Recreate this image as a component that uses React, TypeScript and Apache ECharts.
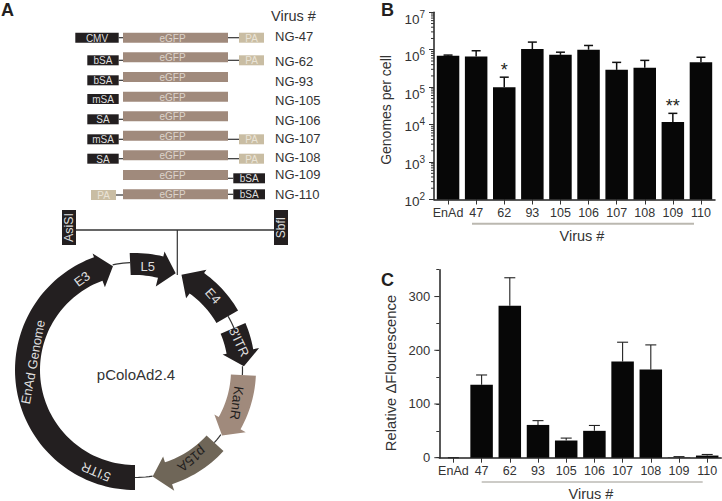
import React, { useEffect, useRef } from "react";
import * as echarts from "echarts";

// ---------- data ----------
const genomeCategories = ["EnAd", "47", "62", "93", "105", "106", "107", "108", "109", "110"];
const genomeValues = [690000, 660000, 100000, 1040000, 730000, 1000000, 290000, 330000, 11700, 460000];
const genomeUpper = [720000, 940000, 185000, 1600000, 860000, 1300000, 460000, 520000, 20000, 630000];
const genomeSignificance = ["", "", "*", "", "", "", "", "", "**", ""];
const genomeMinorMultipliers = [2, 3, 4, 5, 6, 7, 8, 9];
const genomeDecades = [100, 1000, 10000, 100000, 1000000];

const fluorCategories = ["EnAd", "47", "62", "93", "105", "106", "107", "108", "109", "110"];
const fluorValues = [0, 136, 283, 61, 32, 50, 179, 164, 0.5, 4];
const fluorUpper = [0, 154, 335, 69, 36.5, 60, 215, 210, 2, 6];
const fluorMajorTicks = [0, 100, 200, 300];

const constructNames = ["NG-47", "NG-62", "NG-93", "NG-105", "NG-106", "NG-107", "NG-108", "NG-109", "NG-110"];
const constructLeft = ["CMV", "bSA", "bSA", "mSA", "SA", "mSA", "SA", "", "PA"];
const constructRight = ["PA", "PA", "", "", "", "PA", "PA", "bSA", "bSA"];

// ---------- layout of the schematic ----------
const rowEgfpTop = [32.7, 52.3, 72, 91.7, 111.3, 130.7, 150.3, 170, 189.3];
const rowLeftTop = [32.7, 55.3, 75.3, 94, 114.3, 134.3, 153.7, 0, 190];
const rowRightTop = [32.7, 55.3, 0, 0, 0, 134.3, 153.7, 173.3, 189.3];
const rowNameY = [36.7, 61.3, 81, 100.3, 120.3, 138, 157.3, 174.7, 194];

const FONT = "Liberation Sans";
const BLACK = "#231f20";
const TEXT = "#333333";
const BROWN = "#a08a7c";
const TAN = "#c9bda3";
const OLIVE = "#6f6658";
const CX = 135;
const CY = 370;

const polar = (r: number, deg: number) => {
  const a = (deg * Math.PI) / 180;
  return [CX + r * Math.sin(a), CY - r * Math.cos(a)];
};

const arcPts = (r: number, from: number, to: number) => {
  const n = Math.max(2, Math.ceil(Math.abs(to - from) / 2));
  const pts: number[][] = [];
  for (let i = 0; i <= n; i++) pts.push(polar(r, from + ((to - from) * i) / n));
  return pts;
};

const arrow = (
  tail: number, head: number, tip: number,
  rIn: number, rOut: number, barbIn: number, barbOut: number, tipR: number, fill: string,
) => ({
  type: "polygon", silent: true,
  shape: {
    points: [
      ...arcPts(rOut, tail, head),
      polar(barbOut, head),
      polar(tipR, tip),
      polar(barbIn, head),
      ...arcPts(rIn, head, tail),
    ],
  },
  style: { fill },
});

const backbone = (from: number, to: number) => ({
  type: "polyline", silent: true,
  shape: { points: arcPts(107.5, from, to) },
  style: { stroke: "#333", lineWidth: 1.2, fill: "none" },
});

const label = (text: string, x: number, y: number, size: number, fill = TEXT, rotation = 0, align = "center") => ({
  type: "text", silent: true, x, y, rotation,
  style: { text, fill, fontSize: size, fontFamily: FONT, textAlign: align, textVerticalAlign: "middle" },
});

const rect = (x: number, y: number, width: number, height: number, fill: string) => ({
  type: "rect", silent: true, shape: { x, y, width, height }, style: { fill },
});

const line = (x1: number, y1: number, x2: number, y2: number, stroke = "#333", lineWidth = 1.2) => ({
  type: "line", silent: true, shape: { x1, y1, x2, y2 }, style: { stroke, lineWidth },
});

const box = (text: string, x: number, y: number, w: number, isPA: boolean) => [
  rect(x, y, w, 10, isPA ? TAN : BLACK),
  label(text, x + w / 2, y + 5.3, 10, isPA ? "#e9e3d6" : "#dedede"),
];

const schematic = () => {
  const out: any[] = [];
  constructNames.forEach((name, i) => {
    const l = constructLeft[i];
    const r = constructRight[i];
    const eTop = rowEgfpTop[i];
    if (l) {
      const pa = l === "PA";
      const x = pa ? 91 : l === "CMV" ? 75.3 : 87.3;
      const right = pa ? 116 : 118.7;
      if (i !== 3) out.push(line(right, rowLeftTop[i] + 5, 123, rowLeftTop[i] + 5));
      out.push(...box(l, x, rowLeftTop[i], right - x, pa));
    }
    if (r) {
      const pa = r === "PA";
      const x = pa ? 239 : 233.3;
      const w = pa ? 25 : 31.7;
      out.push(line(228, rowRightTop[i] + 5, x, rowRightTop[i] + 5));
      out.push(...box(r, x, rowRightTop[i], w, pa));
    }
    out.push(rect(123, eTop, 105, 10, BROWN));
    out.push(label("eGFP", 172.5, eTop + 5.3, 10, "#dcd3cb"));
    out.push(label(name, 275, rowNameY[i], 13, TEXT, 0, "left"));
  });
  out.push(label("Virus #", 271, 15.7, 14.5, TEXT, 0, "left"));

  // restriction linker
  out.push(line(76, 230, 274, 230, "#333", 1.5));
  out.push(line(177.3, 230, 177.3, 275, "#333", 1.2));
  out.push(rect(62, 210, 14, 35, BLACK));
  out.push(rect(274, 210, 14, 35, BLACK));
  out.push(label("AsiSI", 69, 227.5, 12.5, "#dedede", Math.PI / 2));
  out.push(label("SbfI", 281, 227.5, 12, "#dedede", Math.PI / 2));

  // plasmid
  out.push(backbone(348, 357.4), backbone(60, 67), backbone(88, 92.7), backbone(127, 132.5), backbone(170.6, 180));
  out.push(arrow(180, 340, 348, 95, 120, 88, 124, 106, BLACK));
  out.push(arrow(-2.6, 14, 22.8, 95, 117, 86, 122, 105, BLACK));
  out.push(arrow(60, 35.5, 26, 94, 119, 88, 123, 106, BLACK));
  out.push(arrow(67, 80, 88, 93, 120, 89, 126, 109, BLACK));
  out.push(arrow(92.7, 119.3, 127, 96, 121, 91, 127, 109, BROWN));
  out.push(arrow(132.5, 162, 170.6, 97, 120, 91, 127, 108, OLIVE));

  out.push(label("pColoAd2.4", 136, 374, 15));
  out.push(label("E3", 82, 279, 13, "#dedede", 0.63));
  out.push(label("EnAd Genome", 33, 362, 13, "#dedede", 1.39));
  out.push(label("L5", 147.7, 266, 13, "#dedede", 0));
  out.push(label("E4", 213, 296, 13, "#dedede", -0.84));
  out.push(label("3'ITR", 239, 342, 13, "#dedede", -1.13));
  out.push(label("KanR", 236.7, 403, 13.5, BLACK, -1.71));
  out.push(label("p15A", 191.7, 459, 13.5, BLACK, -2.47));
  out.push(label("5'ITR", 96, 472, 13, "#dedede", 2.75));

  // panel letters and chart furniture
  const letter = (t: string, x: number, y: number) => ({
    type: "text", silent: true, x, y,
    style: { text: t, fill: BLACK, fontSize: 18, fontWeight: "bold", fontFamily: FONT, textAlign: "left", textVerticalAlign: "middle" },
  });
  out.push(letter("A", 1, 9.5), letter("B", 381, 9.5), letter("C", 381, 280));
  out.push(label("Genomes per cell", 386, 110, 14, TEXT, Math.PI / 2));
  out.push(label("Relative \u0394Flourescence", 391, 373, 14.8, TEXT, Math.PI / 2));
  out.push(line(472, 223.7, 694, 223.7, "#bbb8b0", 2));
  out.push(line(481.7, 482, 702.7, 482, "#9a978f", 1));
  out.push(label("Virus #", 582, 236, 14.5));
  out.push(label("Virus #", 591, 493.6, 14.5));
  return out;
};

const errorRender = (cap: number, width: number, stroke: string, marks: string[]) => (params: any, api: any) => {
  const i = api.value(0);
  const hi = api.coord([i, api.value(1)]);
  const base = api.coord([i, api.value(2)]);
  const children: any[] = [
    { type: "line", shape: { x1: hi[0], y1: hi[1], x2: base[0], y2: base[1] }, style: { stroke, lineWidth: width } },
    { type: "line", shape: { x1: hi[0] - cap / 2, y1: hi[1], x2: hi[0] + cap / 2, y2: hi[1] }, style: { stroke, lineWidth: width } },
  ];
  if (marks[i]) {
    children.push({
      type: "text", x: hi[0], y: hi[1] - 7,
      style: { text: marks[i], fill: BLACK, fontSize: 18, fontFamily: FONT, textAlign: "center", textVerticalAlign: "middle" },
    });
  }
  return { type: "group", children };
};

const tickRender = (length: number) => (params: any, api: any) => {
  const p = api.coord([0, api.value(1)]);
  const x = params.coordSys.x;
  return { type: "line", shape: { x1: x - length, y1: p[1], x2: x, y2: p[1] }, style: { stroke: "#333", lineWidth: 1 } };
};

const genomeMinorTicks: number[][] = [];
genomeDecades.forEach((d) => genomeMinorMultipliers.forEach((m) => genomeMinorTicks.push([0, d * m])));

const xAxisBase = (gridIndex: number, data: string[]) => ({
  type: "category", gridIndex, data,
  axisLine: { lineStyle: { color: "#222", width: 1.5 } },
  axisTick: { show: true, alignWithLabel: true, length: 5, lineStyle: { color: "#333", width: 1 } },
  axisLabel: { color: TEXT, fontSize: 12.5, fontFamily: FONT, margin: 7, interval: 0, hideOverlap: false },
  splitLine: { show: false },
});

export default function App() {
  const ref = useRef<HTMLDivElement>(null);
  useEffect(() => {
    const chart = echarts.init(ref.current!, null, { renderer: "svg" });
    chart.setOption({
      animation: false,
      backgroundColor: "#ffffff",
      grid: [
        { left: 434, top: 12.3, width: 281, height: 187.2 },
        { left: 439.3, top: 269.7, width: 282, height: 188 },
      ],
      xAxis: [xAxisBase(0, genomeCategories), xAxisBase(1, fluorCategories)],
      yAxis: [
        {
          type: "log", gridIndex: 0, logBase: 10, min: 100, max: 10000000,
          axisLine: { show: true, lineStyle: { color: "#222", width: 1.5 } },
          axisTick: { show: true, length: 5, lineStyle: { color: "#333", width: 1 } },
          splitLine: { show: false }, minorTick: { show: false }, minorSplitLine: { show: false },
          axisLabel: {
            margin: 9,
            formatter: (v: number) => {
              const e = Math.round(Math.log10(v));
              return e >= 5 ? `{B|10}{S|${e}}` : `{b|10}{s|${e}}`;
            },
            rich: {
              b: { fontSize: 13.5, fontFamily: FONT, color: TEXT, padding: [4, 0, 0, 0] },
              s: { fontSize: 10, fontFamily: FONT, color: TEXT, padding: [0, 0, 6, 0] },
              B: { fontSize: 13.5, fontFamily: FONT, color: TEXT, padding: [14, 0, 0, 0] },
              S: { fontSize: 10, fontFamily: FONT, color: TEXT, padding: [10, 0, 6, 0] },
            },
          },
        },
        {
          type: "value", gridIndex: 1, min: 0, max: 350, interval: 50,
          axisLine: { show: true, lineStyle: { color: "#222", width: 1.5 } },
          axisTick: { show: true, length: 3, lineStyle: { color: "#333", width: 1 } },
          splitLine: { show: false },
          axisLabel: {
            color: TEXT, fontSize: 13, fontFamily: FONT, margin: 9,
            formatter: (v: number) => (v % 100 === 0 ? String(v) : ""),
          },
        },
      ],
      series: [
        {
          type: "bar", xAxisIndex: 0, yAxisIndex: 0, data: genomeValues, barWidth: 22.5,
          itemStyle: { color: "#070707" },
        },
        {
          type: "custom", xAxisIndex: 0, yAxisIndex: 0, clip: false, z: 1,
          data: genomeUpper.map((u, i) => [i, u, genomeValues[i]]),
          encode: { x: 0, y: 1 },
          renderItem: errorRender(9, 1.5, "#111", genomeSignificance),
        },
        {
          type: "custom", xAxisIndex: 0, yAxisIndex: 0, clip: false,
          data: genomeMinorTicks, encode: { x: 0, y: 1 },
          renderItem: tickRender(3),
        },
        {
          type: "bar", xAxisIndex: 1, yAxisIndex: 1, data: fluorValues, barWidth: 22.5,
          itemStyle: { color: "#070707" },
        },
        {
          type: "custom", xAxisIndex: 1, yAxisIndex: 1, clip: false, z: 1,
          data: fluorUpper.map((u, i) => [i, u, fluorValues[i]]),
          encode: { x: 0, y: 1 },
          renderItem: errorRender(11, 1.1, "#222", fluorCategories.map(() => "")),
        },
        {
          type: "custom", xAxisIndex: 1, yAxisIndex: 1, clip: false,
          data: fluorMajorTicks.map((t) => [0, t]), encode: { x: 0, y: 1 },
          renderItem: tickRender(5),
        },
      ],
      graphic: { elements: schematic() },
    });
    return () => chart.dispose();
  }, []);
  return <div ref={ref} style={{ position: "fixed", left: 0, top: 0, width: 722, height: 501 }} />;
}
